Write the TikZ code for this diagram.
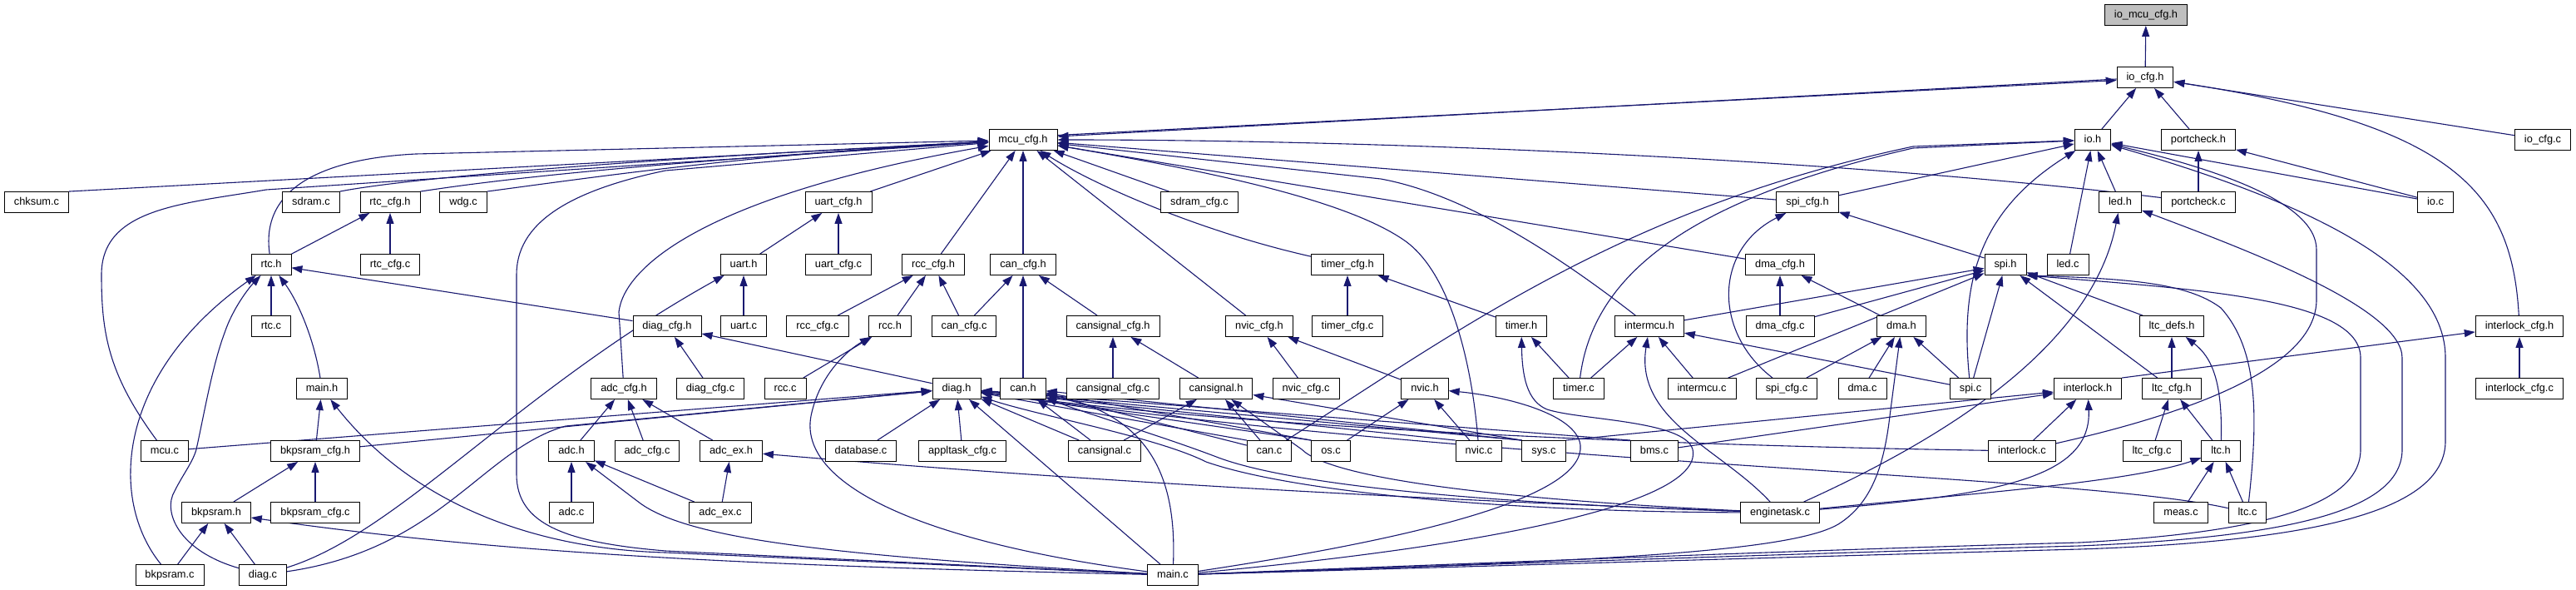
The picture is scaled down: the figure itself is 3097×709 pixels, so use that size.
\documentclass[tikz,border=0pt]{standalone}
\usepackage{fontspec}
\setmainfont{Liberation Sans}
\usetikzlibrary{arrows.meta,backgrounds}
\definecolor{edgeblue}{HTML}{191970}
\definecolor{rootgray}{HTML}{BFBFBF}
\tikzset{
  box/.style={draw=black, line width=0.9pt, fill=white, rectangle, minimum height=25pt,
    inner xsep=11.5pt, inner ysep=0pt, text height=9.5pt, text depth=2.8pt,
    font=\fontsize{12.8}{14}\selectfont},
  rootbox/.style={box, fill=rootgray},
  e/.style={draw=edgeblue, line width=1.1pt, line join=round, -{Triangle[length=13pt,width=9pt]}}
}
\begin{document}
\begin{tikzpicture}[x=1pt,y=-1pt]
\useasboundingbox (0,0) rectangle (3097,709);
% row 0-2
\node[rootbox] (iomcucfgh) at (2580,18) {io\_mcu\_cfg.h};
\node[box] (iocfgh) at (2579,93) {io\_cfg.h};
\node[box] (mcucfgh) at (1230,168) {mcu\_cfg.h};
\node[box] (ioh) at (2516,168) {io.h};
\node[box] (portcheckh) at (2643,168) {portcheck.h};
\node[box] (iocfgc) at (3057,168) {io\_cfg.c};
% row 3
\node[box] (chksumc) at (44,243) {chksum.c};
\node[box] (sdramc) at (374,243) {sdram.c};
\node[box] (rtccfgh) at (469,243) {rtc\_cfg.h};
\node[box] (wdgc) at (557,243) {wdg.c};
\node[box] (uartcfgh) at (1008,243) {uart\_cfg.h};
\node[box] (sdramcfgc) at (1442,243) {sdram\_cfg.c};
\node[box] (spicfgh) at (2173,243) {spi\_cfg.h};
\node[box] (ledh) at (2549,243) {led.h};
\node[box] (portcheckc) at (2643,243) {portcheck.c};
\node[box] (ioc) at (2928,243) {io.c};
% row 4
\node[box] (rtch) at (326,318) {rtc.h};
\node[box] (rtccfgc) at (469,318) {rtc\_cfg.c};
\node[box] (uarth) at (894,318) {uart.h};
\node[box] (uartcfgc) at (1008,318) {uart\_cfg.c};
\node[box] (rcccfgh) at (1122,318) {rcc\_cfg.h};
\node[box] (cancfgh) at (1230,318) {can\_cfg.h};
\node[box] (timercfgh) at (1620,318) {timer\_cfg.h};
\node[box] (dmacfgh) at (2140,318) {dma\_cfg.h};
\node[box] (spih) at (2411,318) {spi.h};
\node[box] (ledc) at (2486,318) {led.c};
% row 5
\node[box] (rtcc) at (326,392) {rtc.c};
\node[box] (diagcfgh) at (802,392) {diag\_cfg.h};
\node[box] (uartc) at (894,392) {uart.c};
\node[box] (rcccfgc) at (983,392) {rcc\_cfg.c};
\node[box] (rcch) at (1070,392) {rcc.h};
\node[box] (cancfgc) at (1159,392) {can\_cfg.c};
\node[box] (cansignalcfgh) at (1338,392) {cansignal\_cfg.h};
\node[box] (nviccfgh) at (1514,392) {nvic\_cfg.h};
\node[box] (timercfgc) at (1620,392) {timer\_cfg.c};
\node[box] (timerh) at (1829,392) {timer.h};
\node[box] (intermcuh) at (1983,392) {intermcu.h};
\node[box] (dmacfgc) at (2140,392) {dma\_cfg.c};
\node[box] (dmah) at (2286,392) {dma.h};
\node[box] (ltcdefsh) at (2611,392) {ltc\_defs.h};
\node[box] (interlockcfgh) at (3029,392) {interlock\_cfg.h};
% row 6
\node[box] (mainh) at (387,467) {main.h};
\node[box] (adccfgh) at (750,467) {adc\_cfg.h};
\node[box] (diagcfgc) at (854,467) {diag\_cfg.c};
\node[box] (rccc) at (944,467) {rcc.c};
\node[box] (diagh) at (1150,467) {diag.h};
\node[box] (canh) at (1230,467) {can.h};
\node[box] (cansignalcfgc) at (1338,467) {cansignal\_cfg.c};
\node[box] (cansignalh) at (1462,467) {cansignal.h};
\node[box] (nviccfgc) at (1570,467) {nvic\_cfg.c};
\node[box] (nvich) at (1713,467) {nvic.h};
\node[box] (timerc) at (1898,467) {timer.c};
\node[box] (intermcuc) at (2046,467) {intermcu.c};
\node[box] (spicfgc) at (2148,467) {spi\_cfg.c};
\node[box] (dmac) at (2239,467) {dma.c};
\node[box] (spic) at (2369,467) {spi.c};
\node[box] (interlockh) at (2510,467) {interlock.h};
\node[box] (ltccfgh) at (2611,467) {ltc\_cfg.h};
\node[box] (interlockcfgc) at (3029,467) {interlock\_cfg.c};
% row 7
\node[box] (mcuc) at (198,542) {mcu.c};
\node[box] (bkpsramcfgh) at (379,542) {bkpsram\_cfg.h};
\node[box] (adch) at (687,542) {adc.h};
\node[box] (adccfgc) at (778,542) {adc\_cfg.c};
\node[box] (adcexh) at (879,542) {adc\_ex.h};
\node[box] (databasec) at (1035,542) {database.c};
\node[box] (appltaskcfgc) at (1157,542) {appltask\_cfg.c};
\node[box] (cansignalc) at (1328,542) {cansignal.c};
\node[box] (canc) at (1526,542) {can.c};
\node[box] (osc) at (1600,542) {os.c};
\node[box] (nvicc) at (1778,542) {nvic.c};
\node[box] (sysc) at (1856,542) {sys.c};
\node[box] (bmsc) at (1989,542) {bms.c};
\node[box] (interlockc) at (2431,542) {interlock.c};
\node[box] (ltccfgc) at (2587,542) {ltc\_cfg.c};
\node[box] (ltch) at (2670,542) {ltc.h};
% row 8
\node[box] (bkpsramh) at (260,616) {bkpsram.h};
\node[box] (bkpsramcfgc) at (379,616) {bkpsram\_cfg.c};
\node[box] (adcc) at (687,616) {adc.c};
\node[box] (adcexc) at (866,616) {adc\_ex.c};
\node[box] (enginetaskc) at (2140,616) {enginetask.c};
\node[box] (measc) at (2622,616) {meas.c};
\node[box] (ltcc) at (2702,616) {ltc.c};
% row 9
\node[box] (bkpsramc) at (204,691) {bkpsram.c};
\node[box] (diagc) at (316,691) {diag.c};
\node[box] (mainc) at (1410,691) {main.c};

\begin{pgfonlayer}{background}
\fill[white] (0,0) rectangle (3097,709);
% top
\draw[e] (iocfgh) -- (iomcucfgh);
\draw[e] (ioh) -- (iocfgh);
\draw[e] (portcheckh) -- (iocfgh);
\draw[e] (iocfgc) -- (iocfgh);
\draw[e] (interlockcfgh) .. controls (3020,230) and (2950,150) .. (iocfgh);
\draw[e] ([yshift=5.5pt]mcucfgh.east) -- ([yshift=-3.5pt]iocfgh.west);
\draw[e] ([yshift=-2pt]iocfgh.west) -- ([yshift=4pt]mcucfgh.east);
% into mcu_cfg.h
\draw[e] (chksumc.north east) -- (mcucfgh);
\draw[e] (sdramc.north east) .. controls (450,222) and (600,200) .. (mcucfgh);
\draw[e] (rtccfgh.north east) .. controls (560,222) and (700,200) .. (mcucfgh);
\draw[e] (wdgc.north east) .. controls (700,215) and (900,185) .. (mcucfgh);
\draw[e] (rtch) .. controls (312,220) and (400,190) .. (500,185) -- (mcucfgh);
\draw[e] (mcuc) .. controls (130,450) and (122,400) .. (122,330) .. controls (122,250) and (220,245) .. (320,228) -- (mcucfgh);
\draw[e] (mainc) -- (800,662) .. controls (680,652) and (621,630) .. (621,570) -- (621,330) .. controls (621,270) and (680,230) .. (800,205) -- (mcucfgh);
\draw[e] (adccfgh) -- (744,375) .. controls (750,320) and (850,235) .. (mcucfgh);
\draw[e] (uartcfgh) -- (mcucfgh);
\draw[e] (rcccfgh) -- (mcucfgh);
\draw[e] (cancfgh) -- (mcucfgh);
\draw[e] (nviccfgh) -- (mcucfgh);
\draw[e] (timercfgh) .. controls (1450,280) and (1320,225) .. (mcucfgh);
\draw[e] (sdramcfgc) -- (mcucfgh);
\draw[e] (portcheckc) .. controls (2250,195) and (1700,168) .. (mcucfgh);
\draw[e] (spicfgh) -- (mcucfgh);
\draw[e] (dmacfgh) -- (mcucfgh);
\draw[e] (intermcuh) .. controls (1890,320) and (1770,235) .. (1660,215) -- (mcucfgh);
\draw[e] (nvicc) .. controls (1770,440) and (1745,330) .. (1690,290) .. controls (1620,240) and (1450,205) .. (mcucfgh);
% into io.h
\draw[e] (spicfgh) -- (ioh);
\draw[e] (ledh) -- (ioh);
\draw[e] (ledc) -- (ioh);
\draw[e] (spic) .. controls (2355,330) and (2385,250) .. (ioh);
\draw[e] (timerc) .. controls (1915,330) and (2030,240) .. (2300,178) -- (ioh);
\draw[e] (canc) .. controls (1750,400) and (1950,250) .. (2300,176) -- (ioh);
\draw[e] (ioc) -- (ioh);
\draw[e] (ioc) -- (portcheckh);
\draw[e] (interlockc) .. controls (2640,495) and (2785,440) .. (2785,360) -- (2785,300) .. controls (2785,240) and (2650,200) .. (ioh);
\draw[e] (mainc) .. controls (1800,680) and (2200,668) .. (2500,660) .. controls (2800,650) and (2940,610) .. (2940,530) -- (2940,430) .. controls (2940,330) and (2800,250) .. (ioh);
\draw[e] (mainc) .. controls (1800,678) and (2200,664) .. (2500,656) .. controls (2760,645) and (2888,612) .. (2888,540) -- (2888,430) .. controls (2888,370) and (2700,300) .. (ledh);
\draw[e] (mainc) .. controls (1800,676) and (2200,660) .. (2500,652) .. controls (2720,640) and (2838,608) .. (2838,540) -- (2838,430) .. controls (2838,360) and (2650,348) .. (spih.south east);
\draw[e] (enginetaskc) .. controls (2330,530) and (2515,420) .. (ledh);
% spi.h
\draw[e] (spih) -- (spicfgh);
\draw[e] (intermcuh) -- (spih);
\draw[e] (intermcuc) -- (spih);
\draw[e] (dmacfgc) -- (spih);
\draw[e] (spic) -- (spih);
\draw[e] (ltccfgh) -- (spih);
\draw[e] (ltcdefsh) -- (spih);
\draw[e] (ltcc) .. controls (2715,500) and (2715,420) .. (2670,370) .. controls (2630,340) and (2560,335) .. (spih.south east);
% dma
\draw[e] (spicfgc) -- (dmah);
\draw[e] (dmac) -- (dmah);
\draw[e] (spic) -- (dmah);
\draw[e] (mainc) .. controls (1900,675) and (2150,665) .. (2210,630) .. controls (2250,605) and (2265,560) .. (2272,500) -- (dmah);
\draw[e] (dmah) -- (dmacfgh);
\draw[e] (dmacfgc) -- (dmacfgh);
% intermcu
\draw[e] (timerc) -- (intermcuh);
\draw[e] (intermcuc) -- (intermcuh);
\draw[e] (spic) -- (intermcuh);
\draw[e] (enginetaskc) .. controls (2070,540) and (1965,505) .. (intermcuh);
% timer
\draw[e] (timerc) -- (timerh);
\draw[e] (mainc) .. controls (1750,660) and (2050,610) .. (2035,540) .. controls (2025,505) and (1900,505) .. (1860,492) .. controls (1835,482) and (1830,450) .. (timerh);
\draw[e] (timerh) -- (timercfgh);
\draw[e] (timercfgc) -- (timercfgh);
% nvic
\draw[e] (osc) -- (nvich);
\draw[e] (nvicc) -- (nvich);
\draw[e] (mainc) .. controls (1750,640) and (1905,590) .. (1900,535) .. controls (1895,495) and (1800,475) .. (nvich);
\draw[e] (nvich) -- (nviccfgh);
\draw[e] (nviccfgc) -- (nviccfgh);
% spi_cfg
\draw[e] (spicfgc) .. controls (2060,400) and (2060,300) .. (spicfgh);
% ltc
\draw[e] (ltccfgh) -- (ltcdefsh);
\draw[e] (ltch) .. controls (2672,460) and (2660,430) .. (ltcdefsh);
\draw[e] (ltccfgc) -- (ltccfgh);
\draw[e] (ltch) -- (ltccfgh);
\draw[e] (measc) -- (ltch);
\draw[e] (ltcc) -- (ltch);
\draw[e] (enginetaskc) .. controls (2350,595) and (2560,580) .. (ltch);
% interlock
\draw[e] (interlockc) -- (interlockh);
\draw[e] (enginetaskc) .. controls (2400,595) and (2515,575) .. (interlockh);
\draw[e] (sysc.north east) -- (interlockh);
\draw[e] (bmsc) -- (interlockh);
\draw[e] (interlockh.north east) -- (interlockcfgh);
\draw[e] (interlockcfgc) -- (interlockcfgh);
% portcheck
\draw[e] (portcheckc) -- (portcheckh);
% rtc
\draw[e] (rtch) -- (rtccfgh);
\draw[e] (rtccfgc) -- (rtccfgh);
\draw[e] (rtcc) -- (rtch);
\draw[e] (mainh) .. controls (378,410) and (360,365) .. (rtch);
\draw[e] (bkpsramc) .. controls (130,600) and (140,450) .. (rtch);
\draw[e] (diagc) .. controls (215,662) and (195,615) .. (210,590) .. controls (220,570) and (232,555) .. (236,540) .. controls (245,500) and (255,440) .. (270,400) .. controls (280,370) and (300,345) .. (rtch);
\draw[e] (diagcfgh) -- (rtch);
% main.h, bkpsram
\draw[e] (bkpsramcfgh) -- (mainh);
\draw[e] (mainc) -- (800,664) .. controls (650,660) and (500,610) .. (mainh);
\draw[e] (bkpsramh) -- (bkpsramcfgh);
\draw[e] (bkpsramcfgc) -- (bkpsramcfgh);
\draw[e] (bkpsramc) -- (bkpsramh);
\draw[e] (diagc) -- (bkpsramh);
\draw[e] (mainc) .. controls (900,680) and (600,665) .. (bkpsramh);
% uart
\draw[e] (uarth) -- (uartcfgh);
\draw[e] (uartcfgc) -- (uartcfgh);
\draw[e] (uartc) -- (uarth);
\draw[e] (diagc) .. controls (480,640) and (620,470) .. (uarth);
% rcc
\draw[e] (rcccfgc) -- (rcccfgh);
\draw[e] (rcch) -- (rcccfgh);
\draw[e] (cancfgc) -- (rcccfgh);
\draw[e] (rccc) -- (rcch);
\draw[e] (mainc) .. controls (1100,650) and (960,580) .. (975,500) .. controls (985,450) and (1020,420) .. (rcch);
% can
\draw[e] (cancfgc) -- (cancfgh);
\draw[e] (canh) -- (cancfgh);
\draw[e] (cansignalcfgh) -- (cancfgh);
\draw[e] (cansignalcfgc) -- (cansignalcfgh);
\draw[e] (cansignalh) -- (cansignalcfgh);
\draw[e] (cansignalc) -- (canh);
\draw[e] (canc) -- (canh);
\draw[e] (mainc) .. controls (1415,570) and (1380,500) .. (canh);
\draw[e] (osc.north west) -- (canh);
\draw[e] (sysc.north west) -- (canh);
\draw[e] (enginetaskc) .. controls (1800,605) and (1560,585) .. (1465,550) .. controls (1400,525) and (1300,495) .. (canh);
\draw[e] (cansignalc) -- (cansignalh);
\draw[e] (canc) -- (cansignalh);
\draw[e] (sysc.north west) -- (cansignalh);
\draw[e] (enginetaskc) .. controls (1800,600) and (1600,575) .. (1565,540) -- (cansignalh);
% diag
\draw[e] (diagcfgc) -- (diagcfgh);
\draw[e] (diagh) -- (diagcfgh);
\draw[e] (mcuc) -- (diagh);
\draw[e] (bkpsramcfgh) -- (diagh);
\draw[e] (diagc) .. controls (530,660) and (580,540) .. (680,512) -- (diagh);
\draw[e] (databasec) -- (diagh);
\draw[e] (appltaskcfgc) -- (diagh);
\draw[e] (mainc) -- (diagh);
\draw[e] (cansignalc) -- (diagh);
\draw[e] (canc.north west) -- (diagh);
\draw[e] (osc.north west) -- (diagh);
\draw[e] (nvicc.north west) -- (diagh);
\draw[e] (sysc.north west) -- (diagh);
\draw[e] (bmsc.north west) -- (diagh);
\draw[e] (interlockc) .. controls (2000,535) and (1500,515) .. (diagh);
\draw[e] (enginetaskc) .. controls (1800,615) and (1550,590) .. (1450,555) .. controls (1390,525) and (1250,500) .. (diagh);
\draw[e] (ltcc) .. controls (2500,570) and (1800,560) .. (diagh);
% adc
\draw[e] (adch) -- (adccfgh);
\draw[e] (adccfgc) -- (adccfgh);
\draw[e] (adcexh) -- (adccfgh);
\draw[e] (adcc) -- (adch);
\draw[e] (adcexc) -- (adch);
\draw[e] (mainc) .. controls (1000,668) and (830,648) .. (770,605) -- (adch);
\draw[e] (adcexc) -- (adcexh);
\draw[e] (enginetaskc) .. controls (1700,600) and (1300,578) .. (adcexh);
\end{pgfonlayer}
\end{tikzpicture}
\end{document}
